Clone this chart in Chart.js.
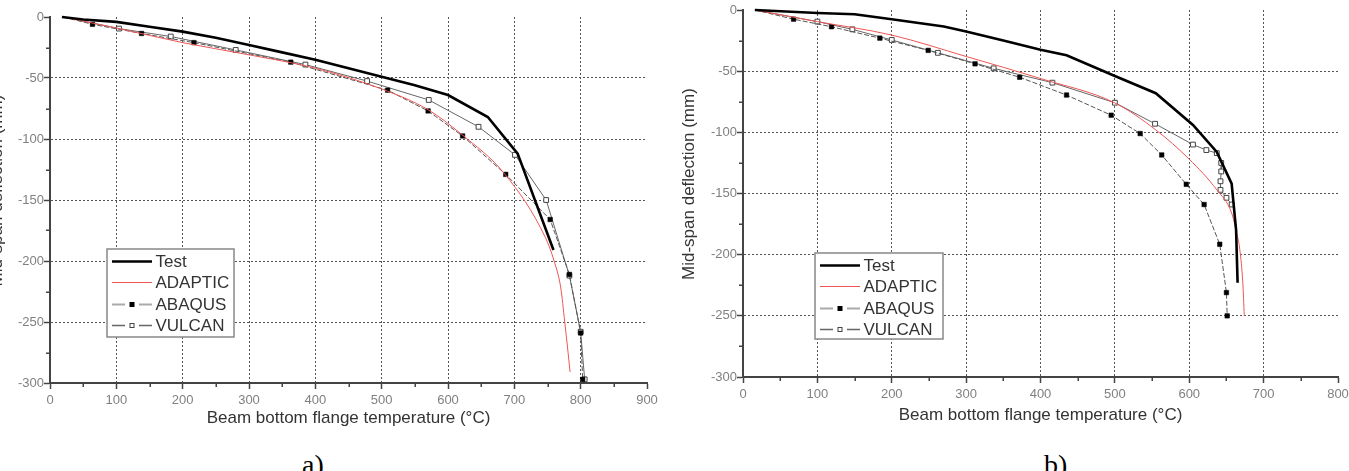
<!DOCTYPE html>
<html>
<head>
<meta charset="utf-8">
<script src="https://cdn.jsdelivr.net/npm/chart.js@4.4.1/dist/chart.umd.min.js"></script>
<style>
  html, body { margin: 0; padding: 0; background: #fff; }
  body { position: relative; width: 1349px; height: 471px; overflow: hidden; }
  canvas { position: absolute; }
  #chartA { left: -13px; top: 0; }
  #chartB { left: 679px; top: -10px; }
  .caption { position: absolute; top: 451px; font-family: 'Liberation Serif', 'Times New Roman', serif; font-size: 28px; line-height: 28px; color: #000; }
</style>
</head>
<body>
<canvas id="chartA" width="692" height="440"></canvas>
<canvas id="chartB" width="675" height="450"></canvas>
<div class="caption" style="left:302px">a)</div>
<div class="caption" style="left:1044px">b)</div>
<script>
// ---- a) temperature (°C) / mid-span deflection (mm)
const testA_T = [18, 50, 100, 150, 200, 250, 300, 350, 400, 450, 500, 550, 600, 660, 705, 759];
const testA_D = [0, -2, -4, -8, -12, -17, -23, -29, -35, -42, -49, -56, -64, -82, -112, -191];
const adapticA_T = [20, 100, 200, 300, 400, 500, 570, 620, 686, 747, 760, 770, 776, 781, 784];
const adapticA_D = [0, -9, -21, -31, -42, -59, -76, -96, -129, -181, -200, -222, -250, -275, -291];
const abaqusA_T = [20, 64, 138, 217, 363, 509, 570, 622, 687, 754, 783, 800, 803];
const abaqusA_D = [0, -6, -13.5, -21, -37, -60, -77, -97.5, -129, -166, -211, -259, -297];
const vulcanA_T = [20, 104, 182, 280, 385, 478, 571, 646, 701, 748, 783, 800, 806];
const vulcanA_D = [0, -9.5, -16, -27, -39, -52.5, -68, -90, -113, -150, -212, -258, -297];

// ---- b)
const testB_T = [16, 100, 150, 200, 270, 300, 350, 400, 435, 500, 555, 605, 637, 657, 663, 665];
const testB_D = [0, -2.5, -3.5, -7.5, -13.5, -17.5, -25, -32.5, -37, -54, -68, -94, -116, -142, -180, -223];
const adapticB_T = [16, 100, 200, 300, 400, 500, 555, 600, 637, 657, 664, 668, 672, 674];
const adapticB_D = [0, -9.5, -20.5, -38, -56, -76, -98, -122, -147, -166, -183, -196, -223, -250];
const abaqusB_T = [16, 68, 119, 184, 249, 312, 372, 435, 495, 534, 563, 596, 620, 641, 650, 651];
const abaqusB_D = [0, -7.5, -13.7, -23, -33, -44, -55, -69.5, -86, -101, -118.5, -142.5, -159, -191.5, -231, -250];
const vulcanB_T = [16, 100, 147, 200, 262, 337, 416, 500, 554, 605, 623, 637, 643, 643, 642, 642, 650, 657];
const vulcanB_D = [0, -9.5, -15.8, -24.5, -35, -47.7, -59.4, -75.8, -93, -110, -114.5, -117, -125, -132, -140, -147, -153.5, -159];

const FONT = "'Liberation Sans', Arial, sans-serif";
const pts = (xs, ys) => xs.map((x, i) => ({ x, y: ys[i] }));

function buildDatasets(test, adaptic, abaqus, vulcan) {
  return [
    { label: 'Test', data: test, borderColor: '#000', borderWidth: 2.6, pointRadius: 0, clip: false },
    { label: 'ADAPTIC', data: adaptic, borderColor: '#ee5555', borderWidth: 1,
      pointRadius: 0, cubicInterpolationMode: 'monotone', clip: false },
    { label: 'ABAQUS', data: abaqus, borderColor: '#555', borderWidth: 1, borderDash: [5, 2],
      pointStyle: 'rect', pointRadius: c => (c.dataIndex === 0 ? 0 : 3.2),
      pointBackgroundColor: '#000', pointBorderColor: '#000', pointBorderWidth: 0.5, clip: false,
      legendLine: { color: '#aaa', width: 2 } },
    { label: 'VULCAN', data: vulcan, borderColor: '#666', borderWidth: 1,
      pointStyle: 'rect', pointRadius: c => (c.dataIndex === 0 ? 0 : 3.4),
      pointBackgroundColor: '#fff', pointBorderColor: '#444', pointBorderWidth: 1, clip: false,
      legendLine: { color: '#666', width: 1.5 } },
  ];
}

// short ticks halfway between the labelled ones
const minorTicks = {
  id: 'minorTicks',
  afterDraw(chart, args, o) {
    const { ctx, scales: { x, y } } = chart;
    ctx.save();
    ctx.strokeStyle = '#444';
    ctx.lineWidth = 1.5;
    ctx.beginPath();
    for (let v = x.min + o.xStep / 2; v < x.max; v += o.xStep) {
      const px = Math.round(x.getPixelForValue(v)) + 0.25;
      ctx.moveTo(px, x.top);
      ctx.lineTo(px, x.top + 4);
    }
    for (let v = y.min + o.yStep / 2; v < y.max; v += o.yStep) {
      const py = Math.round(y.getPixelForValue(v)) + 0.25;
      ctx.moveTo(y.right, py);
      ctx.lineTo(y.right - 4, py);
    }
    ctx.stroke();
    ctx.restore();
  },
};

// boxed legend with line + marker samples
const boxLegend = {
  id: 'boxLegend',
  afterDraw(chart, args, o) {
    const ctx = chart.ctx;
    const { left, top, width, height } = o;
    ctx.save();
    ctx.fillStyle = '#fff';
    ctx.fillRect(left, top, width, height);
    ctx.strokeStyle = '#888';
    ctx.lineWidth = 1.5;
    ctx.strokeRect(left, top, width, height);
    ctx.font = `17px ${FONT}`;
    ctx.textBaseline = 'middle';
    chart.data.datasets.forEach((ds, i) => {
      const cy = Math.round(top + 12 + i * 21.3) + 0.5;
      const x0 = left + 5, x1 = left + 45, mid = (x0 + x1) / 2;
      ctx.setLineDash([]);
      if (ds.legendLine) {
        ctx.strokeStyle = ds.legendLine.color;
        ctx.lineWidth = ds.legendLine.width;
        ctx.beginPath();
        ctx.moveTo(x0, cy); ctx.lineTo(mid - 7, cy);
        ctx.moveTo(mid + 7, cy); ctx.lineTo(x1, cy);
        ctx.stroke();
        ctx.fillStyle = ds.pointBackgroundColor;
        ctx.strokeStyle = ds.pointBorderColor;
        ctx.lineWidth = 1;
        ctx.fillRect(mid - 2, cy - 2, 4, 4);
        ctx.strokeRect(mid - 2, cy - 2, 4, 4);
      } else {
        ctx.strokeStyle = ds.borderColor;
        ctx.lineWidth = ds.borderWidth;
        ctx.beginPath();
        ctx.moveTo(x0, cy); ctx.lineTo(x1, cy);
        ctx.stroke();
      }
      ctx.fillStyle = '#333';
      ctx.fillText(ds.label, left + 48.5, cy + 1);
    });
    ctx.restore();
  },
};

function axes(xMax, cfg) {
  const gridColor = c => (c.tick.value === c.scale.min || c.tick.value === c.scale.max) ? 'rgba(0,0,0,0)' : '#555';
  const tickFont = { family: FONT, size: 13 };
  const titleFont = { family: FONT, size: 17 };
  return {
    x: {
      type: 'linear', min: 0, max: xMax,
      ticks: { stepSize: 100, autoSkip: false, maxRotation: 0, padding: 4, color: '#808080', font: tickFont },
      grid: { color: gridColor, lineWidth: 1, tickLength: 6, tickColor: '#444', tickWidth: 1.5 },
      border: { color: '#444', width: 2, dash: [2, 2] },
      title: { display: true, text: 'Beam bottom flange temperature (°C)', color: '#333', font: titleFont,
               padding: { top: 0, bottom: cfg.xTitlePad } },
      afterFit: s => { s.height = cfg.xHeight; },
    },
    y: {
      type: 'linear', min: -300, max: 0,
      ticks: { stepSize: 50, autoSkip: false, padding: 0, color: '#808080', font: tickFont, callback: v => v },
      grid: { color: gridColor, lineWidth: 1, tickLength: 6, tickColor: '#444', tickWidth: 1.5 },
      border: { color: '#444', width: 2, dash: [2, 2] },
      title: { display: true, text: '    Mid-span deflection (mm)', color: '#333', font: titleFont,
               padding: { top: 0, bottom: 0 } },
      afterFit: s => { s.width = cfg.yWidth; },
    },
  };
}

function makeChart(id, datasets, cfg) {
  return new Chart(document.getElementById(id), {
    type: 'line',
    data: { datasets },
    options: {
      responsive: false,
      animation: false,
      devicePixelRatio: 1,
      events: [],
      layout: { padding: { top: cfg.padTop, right: cfg.padRight, bottom: 0, left: 0 } },
      plugins: {
        legend: { display: false },
        tooltip: { enabled: false },
        minorTicks: { xStep: 100, yStep: 50 },
        boxLegend: cfg.legend,
      },
      scales: axes(cfg.xMax, cfg),
    },
    plugins: [minorTicks, boxLegend],
  });
}

makeChart('chartA',
  buildDatasets(pts(testA_T, testA_D), pts(adapticA_T, adapticA_D), pts(abaqusA_T, abaqusA_D), pts(vulcanA_T, vulcanA_D)),
  { xMax: 900, padTop: 17, padRight: 32, xHeight: 57, xTitlePad: 11.8, yWidth: 63,
    legend: { left: 120, top: 249, width: 127, height: 88 } });

makeChart('chartB',
  buildDatasets(pts(testB_T, testB_D), pts(adapticB_T, adapticB_D), pts(abaqusB_T, abaqusB_D), pts(vulcanB_T, vulcanB_D)),
  { xMax: 800, padTop: 20, padRight: 16, xHeight: 63, xTitlePad: 14.8, yWidth: 64,
    legend: { left: 136, top: 263, width: 128, height: 86 } });
</script>
</body>
</html>
